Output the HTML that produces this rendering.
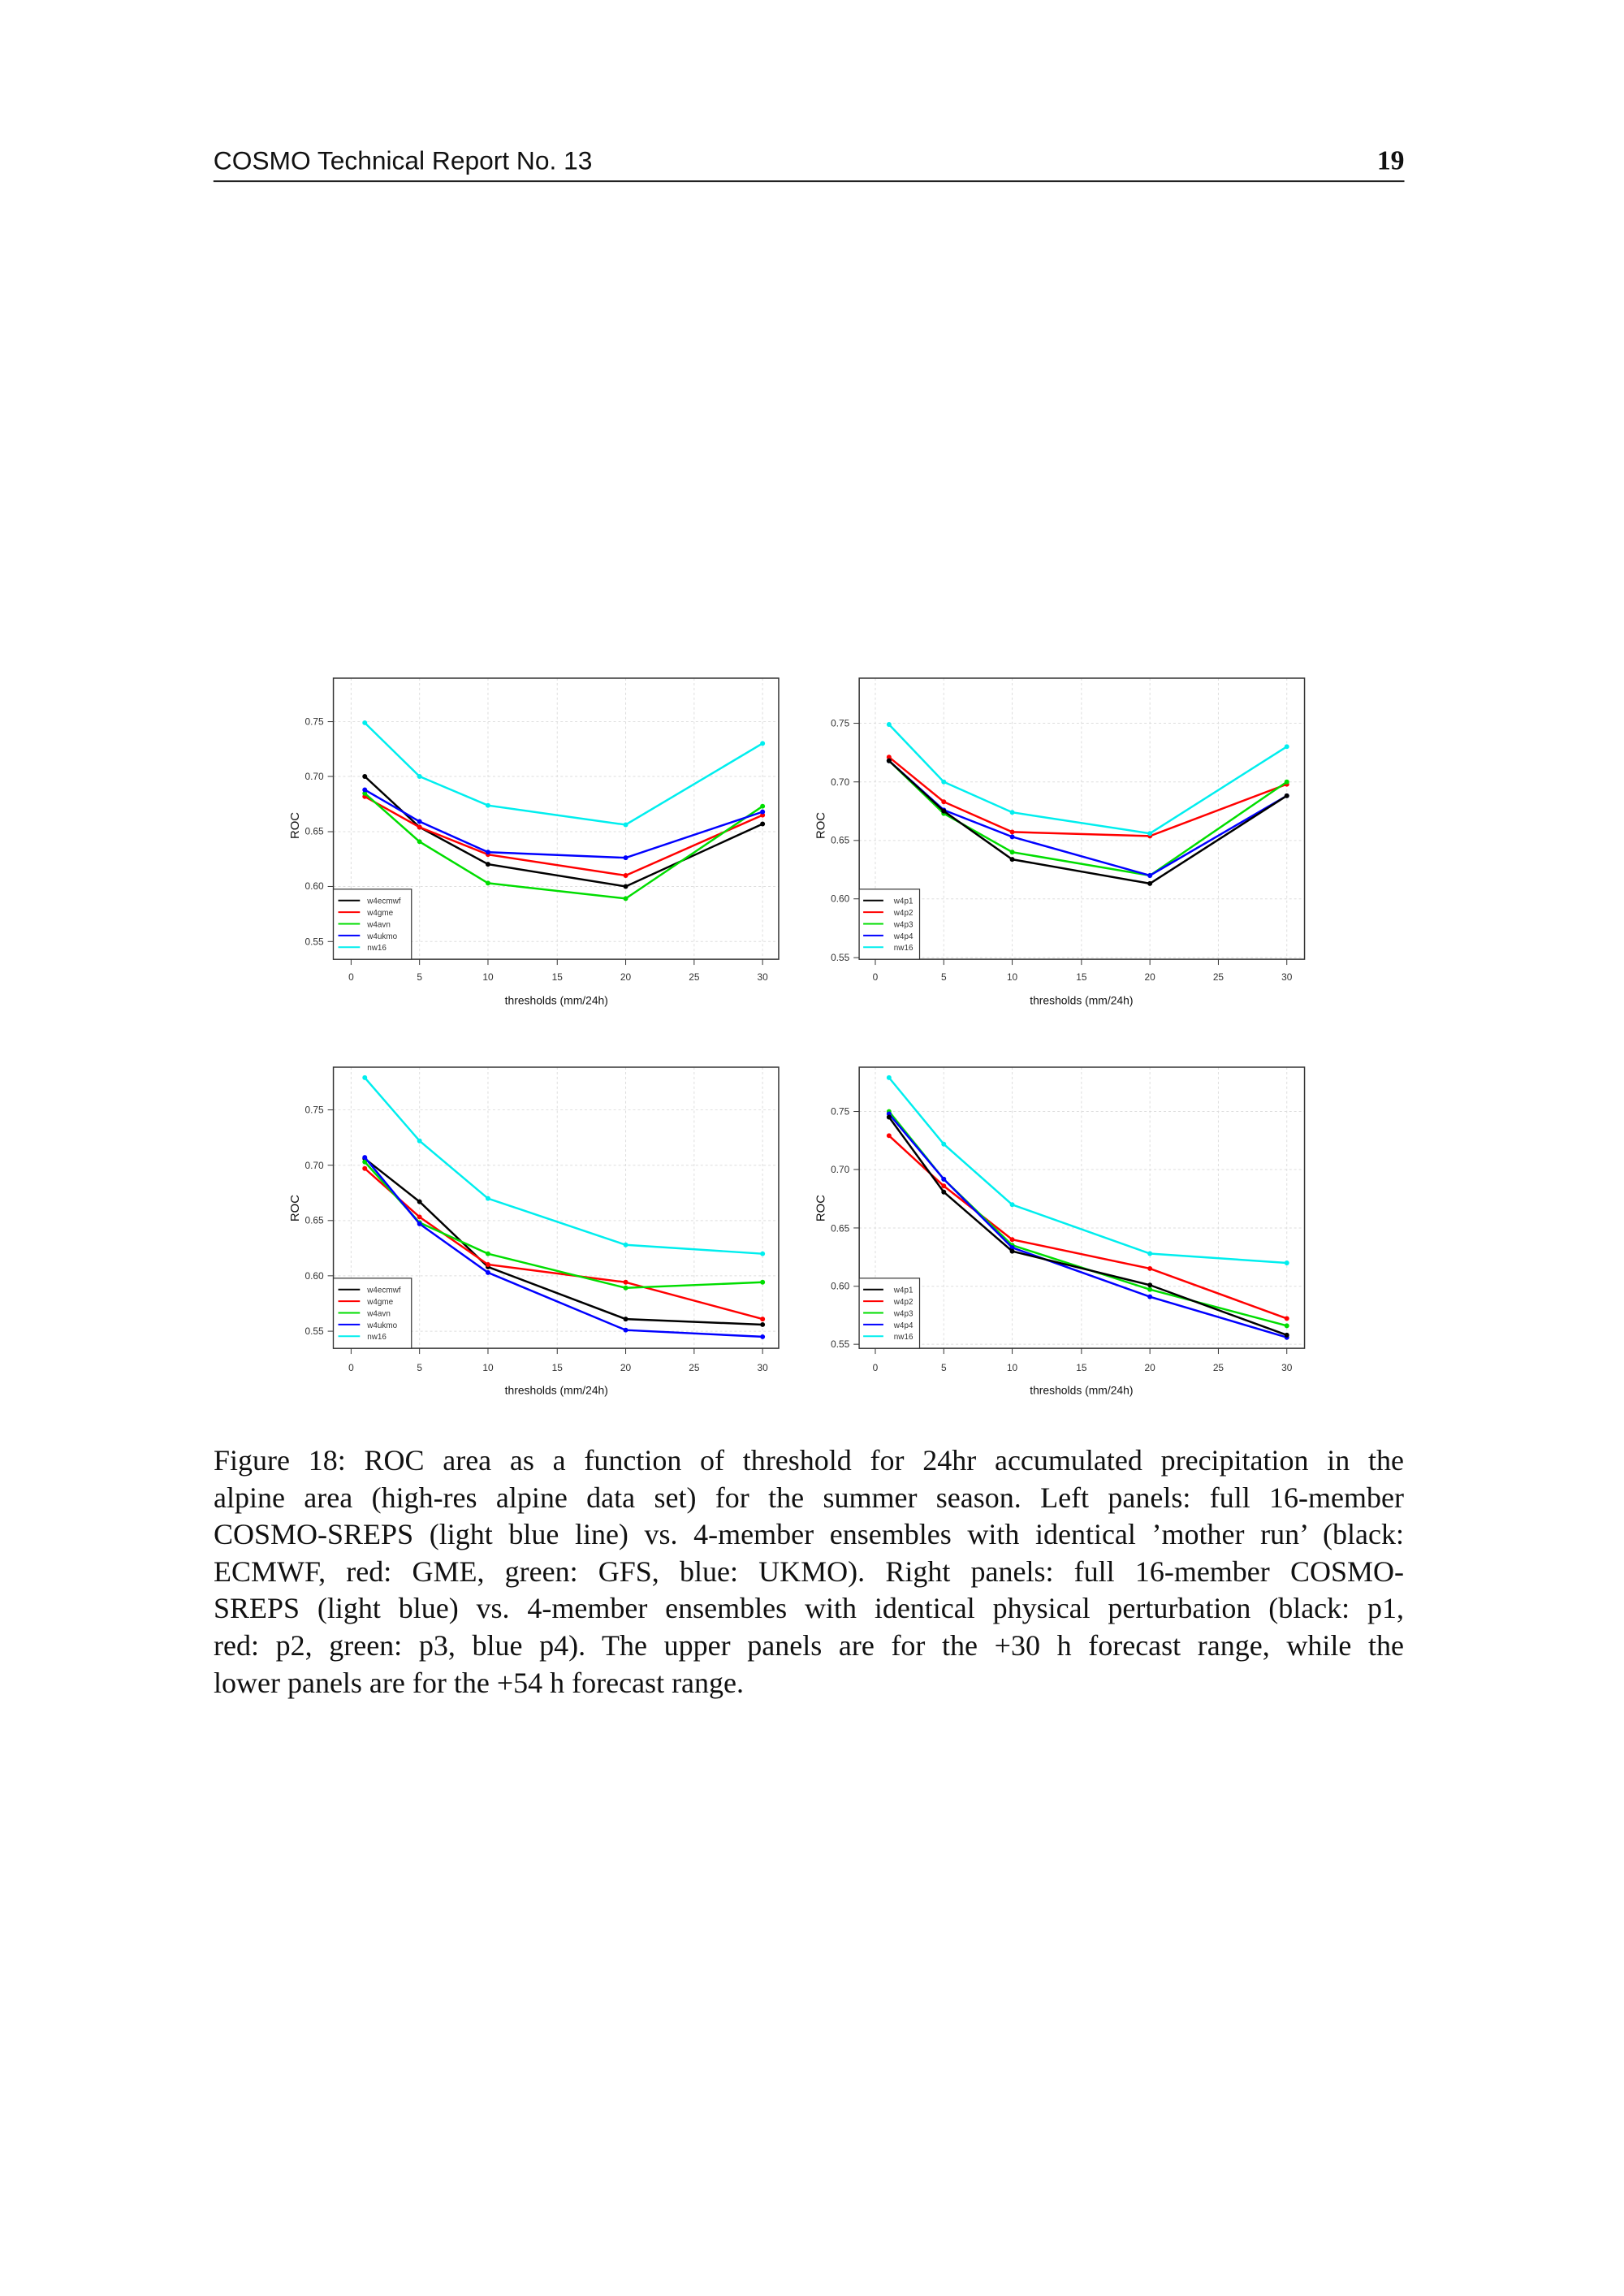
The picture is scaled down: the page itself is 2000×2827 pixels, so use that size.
<!DOCTYPE html>
<html><head><meta charset="utf-8"><style>
body{margin:0;background:#fff;}
svg{display:block}
.cap{position:absolute;left:263px;top:1776px;width:1466px;font-family:"Liberation Serif",serif;font-size:36px;line-height:45.6px;color:#111;}
.cap div{text-align:justify;text-align-last:justify;white-space:nowrap;}
.cap div.last{text-align-last:left;}
</style></head><body>
<div style="position:relative;width:2000px;height:2827px;">
<svg width="2000" height="2827" xmlns="http://www.w3.org/2000/svg" style="position:absolute;left:0;top:0">
<defs>
<marker id="mk" viewBox="0 0 10 10" refX="5" refY="5" markerWidth="3" markerHeight="3" markerUnits="strokeWidth"><circle cx="5" cy="5" r="4" fill="#000"/></marker>
<marker id="mr" viewBox="0 0 10 10" refX="5" refY="5" markerWidth="3" markerHeight="3" markerUnits="strokeWidth"><circle cx="5" cy="5" r="4" fill="#f00"/></marker>
<marker id="mg" viewBox="0 0 10 10" refX="5" refY="5" markerWidth="3" markerHeight="3" markerUnits="strokeWidth"><circle cx="5" cy="5" r="4" fill="#0d0"/></marker>
<marker id="mb" viewBox="0 0 10 10" refX="5" refY="5" markerWidth="3" markerHeight="3" markerUnits="strokeWidth"><circle cx="5" cy="5" r="4" fill="#00f"/></marker>
<marker id="mc" viewBox="0 0 10 10" refX="5" refY="5" markerWidth="3" markerHeight="3" markerUnits="strokeWidth"><circle cx="5" cy="5" r="4" fill="#0ee"/></marker>
<style>
.k{stroke:#000;marker-start:url(#mk);marker-mid:url(#mk);marker-end:url(#mk)}
.r{stroke:#f00;marker-start:url(#mr);marker-mid:url(#mr);marker-end:url(#mr)}
.g{stroke:#0d0;marker-start:url(#mg);marker-mid:url(#mg);marker-end:url(#mg)}
.b{stroke:#00f;marker-start:url(#mb);marker-mid:url(#mb);marker-end:url(#mb)}
.c{stroke:#0ee;marker-start:url(#mc);marker-mid:url(#mc);marker-end:url(#mc)}
</style>
</defs>
<g transform="scale(0.9917)">
<g font-family="Liberation Sans, sans-serif">
<text x="265" y="210" font-size="32" fill="#111">COSMO Technical Report No. 13</text>
<text x="1744" y="210" font-size="34" font-weight="bold" text-anchor="end" font-family="Liberation Serif, serif" fill="#111">19</text>
<line x1="265" y1="225" x2="1744" y2="225" stroke="#222" stroke-width="2"/>
</g>

<!-- Panel TL -->
<g font-family="Liberation Sans, sans-serif" fill="none">
<g stroke="#ddd" stroke-dasharray="3,3" stroke-width="1">
<line x1="414" x2="967" y1="1169" y2="1169"/><line x1="414" x2="967" y1="1100.6" y2="1100.6"/><line x1="414" x2="967" y1="1032.6" y2="1032.6"/><line x1="414" x2="967" y1="964" y2="964"/><line x1="414" x2="967" y1="896" y2="896"/>
<line y1="842" y2="1191" x1="436" x2="436"/><line y1="842" y2="1191" x1="521" x2="521"/><line y1="842" y2="1191" x1="606" x2="606"/><line y1="842" y2="1191" x1="692" x2="692"/><line y1="842" y2="1191" x1="777" x2="777"/><line y1="842" y2="1191" x1="862" x2="862"/><line y1="842" y2="1191" x1="947" x2="947"/>
</g>
<rect x="414" y="842" width="553" height="349" stroke="#333" stroke-width="1.5"/>
<g stroke="#333"><line x1="436" x2="436" y1="1191" y2="1198"/><line x1="521" x2="521" y1="1191" y2="1198"/><line x1="606" x2="606" y1="1191" y2="1198"/><line x1="692" x2="692" y1="1191" y2="1198"/><line x1="777" x2="777" y1="1191" y2="1198"/><line x1="862" x2="862" y1="1191" y2="1198"/><line x1="947" x2="947" y1="1191" y2="1198"/>
<line x1="407" x2="414" y1="1169" y2="1169"/><line x1="407" x2="414" y1="1100.6" y2="1100.6"/><line x1="407" x2="414" y1="1032.6" y2="1032.6"/><line x1="407" x2="414" y1="964" y2="964"/><line x1="407" x2="414" y1="896" y2="896"/></g>
<g stroke-width="2.5">
<polyline class="k" points="453,964 521,1027 606,1073 777,1100.6 947,1023"/>
<polyline class="r" points="453,989 521,1027 606,1061 777,1087 947,1012"/>
<polyline class="g" points="453,985 521,1045 606,1096.5 777,1115.6 947,1001"/>
<polyline class="b" points="453,980.6 521,1020 606,1058 777,1065 947,1008"/>
<polyline class="c" points="453,897.4 521,964 606,1000 777,1024 947,923"/>
</g>
<g fill="#333" font-size="12">
<text x="436" y="1217" text-anchor="middle">0</text><text x="521" y="1217" text-anchor="middle">5</text><text x="606" y="1217" text-anchor="middle">10</text><text x="692" y="1217" text-anchor="middle">15</text><text x="777" y="1217" text-anchor="middle">20</text><text x="862" y="1217" text-anchor="middle">25</text><text x="947" y="1217" text-anchor="middle">30</text>
<text x="402" y="1173" text-anchor="end">0.55</text><text x="402" y="1104" text-anchor="end">0.60</text><text x="402" y="1036" text-anchor="end">0.65</text><text x="402" y="968" text-anchor="end">0.70</text><text x="402" y="900" text-anchor="end">0.75</text>
<text x="691" y="1247" text-anchor="middle" font-size="14" fill="#111">thresholds (mm/24h)</text>
<text transform="translate(371,1025) rotate(-90)" text-anchor="middle" font-size="15" fill="#111">ROC</text>
</g>
<rect x="414" y="1104" width="97" height="87" fill="#fff" stroke="#333" stroke-width="1.2"/>
<g stroke-width="2"><line x1="420" x2="447" y1="1118" y2="1118" stroke="#000"/><line x1="420" x2="447" y1="1132.5" y2="1132.5" stroke="#f00"/><line x1="420" x2="447" y1="1147" y2="1147" stroke="#0d0"/><line x1="420" x2="447" y1="1161.5" y2="1161.5" stroke="#00f"/><line x1="420" x2="447" y1="1176" y2="1176" stroke="#0ee"/></g>
<g fill="#333" font-size="10"><text x="456" y="1122">w4ecmwf</text><text x="456" y="1136.5">w4gme</text><text x="456" y="1151">w4avn</text><text x="456" y="1165.5">w4ukmo</text><text x="456" y="1180">nw16</text></g>
</g>

<!-- Panel TR -->
<g font-family="Liberation Sans, sans-serif" fill="none">
<g stroke="#ddd" stroke-dasharray="3,3" stroke-width="1">
<line x1="1067" x2="1620" y1="1189" y2="1189"/><line x1="1067" x2="1620" y1="1116" y2="1116"/><line x1="1067" x2="1620" y1="1043.5" y2="1043.5"/><line x1="1067" x2="1620" y1="970.8" y2="970.8"/><line x1="1067" x2="1620" y1="898" y2="898"/>
<line y1="842" y2="1191" x1="1087" x2="1087"/><line y1="842" y2="1191" x1="1172" x2="1172"/><line y1="842" y2="1191" x1="1257" x2="1257"/><line y1="842" y2="1191" x1="1343" x2="1343"/><line y1="842" y2="1191" x1="1428" x2="1428"/><line y1="842" y2="1191" x1="1513" x2="1513"/><line y1="842" y2="1191" x1="1598" x2="1598"/>
</g>
<rect x="1067" y="842" width="553" height="349" stroke="#333" stroke-width="1.5"/>
<g stroke="#333"><line x1="1087" x2="1087" y1="1191" y2="1198"/><line x1="1172" x2="1172" y1="1191" y2="1198"/><line x1="1257" x2="1257" y1="1191" y2="1198"/><line x1="1343" x2="1343" y1="1191" y2="1198"/><line x1="1428" x2="1428" y1="1191" y2="1198"/><line x1="1513" x2="1513" y1="1191" y2="1198"/><line x1="1598" x2="1598" y1="1191" y2="1198"/>
<line x1="1060" x2="1067" y1="1189" y2="1189"/><line x1="1060" x2="1067" y1="1116" y2="1116"/><line x1="1060" x2="1067" y1="1043.5" y2="1043.5"/><line x1="1060" x2="1067" y1="970.8" y2="970.8"/><line x1="1060" x2="1067" y1="898" y2="898"/></g>
<g stroke-width="2.5">
<polyline class="r" points="1104,940 1172,995.5 1257,1033 1428,1038 1598,973.7"/>
<polyline class="g" points="1104,944.6 1172,1010 1257,1058 1428,1087 1598,970.8"/>
<polyline class="b" points="1104,944.6 1172,1005.7 1257,1039 1428,1087 1598,988"/>
<polyline class="k" points="1104,944.6 1172,1007 1257,1067 1428,1097 1598,988"/>
<polyline class="c" points="1104,899.5 1172,970.8 1257,1008.6 1428,1034.8 1598,927"/>
</g>
<g fill="#333" font-size="12">
<text x="1087" y="1217" text-anchor="middle">0</text><text x="1172" y="1217" text-anchor="middle">5</text><text x="1257" y="1217" text-anchor="middle">10</text><text x="1343" y="1217" text-anchor="middle">15</text><text x="1428" y="1217" text-anchor="middle">20</text><text x="1513" y="1217" text-anchor="middle">25</text><text x="1598" y="1217" text-anchor="middle">30</text>
<text x="1055" y="1193" text-anchor="end">0.55</text><text x="1055" y="1120" text-anchor="end">0.60</text><text x="1055" y="1047" text-anchor="end">0.65</text><text x="1055" y="975" text-anchor="end">0.70</text><text x="1055" y="902" text-anchor="end">0.75</text>
<text x="1343" y="1247" text-anchor="middle" font-size="14" fill="#111">thresholds (mm/24h)</text>
<text transform="translate(1024,1025) rotate(-90)" text-anchor="middle" font-size="15" fill="#111">ROC</text>
</g>
<rect x="1067" y="1104" width="75" height="87" fill="#fff" stroke="#333" stroke-width="1.2"/>
<g stroke-width="2"><line x1="1072" x2="1097" y1="1118" y2="1118" stroke="#000"/><line x1="1072" x2="1097" y1="1132.5" y2="1132.5" stroke="#f00"/><line x1="1072" x2="1097" y1="1147" y2="1147" stroke="#0d0"/><line x1="1072" x2="1097" y1="1161.5" y2="1161.5" stroke="#00f"/><line x1="1072" x2="1097" y1="1176" y2="1176" stroke="#0ee"/></g>
<g fill="#333" font-size="10"><text x="1110" y="1122">w4p1</text><text x="1110" y="1136.5">w4p2</text><text x="1110" y="1151">w4p3</text><text x="1110" y="1165.5">w4p4</text><text x="1110" y="1180">nw16</text></g>
</g>

<!-- Panel BL -->
<g font-family="Liberation Sans, sans-serif" fill="none">
<g stroke="#ddd" stroke-dasharray="3,3" stroke-width="1">
<line x1="414" x2="967" y1="1652.8" y2="1652.8"/><line x1="414" x2="967" y1="1584" y2="1584"/><line x1="414" x2="967" y1="1515.4" y2="1515.4"/><line x1="414" x2="967" y1="1446.7" y2="1446.7"/><line x1="414" x2="967" y1="1378" y2="1378"/>
<line y1="1325" y2="1674" x1="436" x2="436"/><line y1="1325" y2="1674" x1="521" x2="521"/><line y1="1325" y2="1674" x1="606" x2="606"/><line y1="1325" y2="1674" x1="692" x2="692"/><line y1="1325" y2="1674" x1="777" x2="777"/><line y1="1325" y2="1674" x1="862" x2="862"/><line y1="1325" y2="1674" x1="947" x2="947"/>
</g>
<rect x="414" y="1325" width="553" height="349" stroke="#333" stroke-width="1.5"/>
<g stroke="#333"><line x1="436" x2="436" y1="1674" y2="1681"/><line x1="521" x2="521" y1="1674" y2="1681"/><line x1="606" x2="606" y1="1674" y2="1681"/><line x1="692" x2="692" y1="1674" y2="1681"/><line x1="777" x2="777" y1="1674" y2="1681"/><line x1="862" x2="862" y1="1674" y2="1681"/><line x1="947" x2="947" y1="1674" y2="1681"/>
<line x1="407" x2="414" y1="1652.8" y2="1652.8"/><line x1="407" x2="414" y1="1584" y2="1584"/><line x1="407" x2="414" y1="1515.4" y2="1515.4"/><line x1="407" x2="414" y1="1446.7" y2="1446.7"/><line x1="407" x2="414" y1="1378" y2="1378"/></g>
<g stroke-width="2.5">
<polyline class="k" points="453,1438.5 521,1492 606,1573 777,1637.7 947,1644.6"/>
<polyline class="r" points="453,1450.8 521,1511 606,1570 777,1592 947,1637.7"/>
<polyline class="g" points="453,1442.6 521,1518 606,1556.6 777,1599 947,1592"/>
<polyline class="b" points="453,1437 521,1519.5 606,1580 777,1651.4 947,1659.7"/>
<polyline class="c" points="453,1338 521,1416.5 606,1488 777,1545.6 947,1556.6"/>
</g>
<g fill="#333" font-size="12">
<text x="436" y="1702" text-anchor="middle">0</text><text x="521" y="1702" text-anchor="middle">5</text><text x="606" y="1702" text-anchor="middle">10</text><text x="692" y="1702" text-anchor="middle">15</text><text x="777" y="1702" text-anchor="middle">20</text><text x="862" y="1702" text-anchor="middle">25</text><text x="947" y="1702" text-anchor="middle">30</text>
<text x="402" y="1657" text-anchor="end">0.55</text><text x="402" y="1588" text-anchor="end">0.60</text><text x="402" y="1519" text-anchor="end">0.65</text><text x="402" y="1451" text-anchor="end">0.70</text><text x="402" y="1382" text-anchor="end">0.75</text>
<text x="691" y="1731" text-anchor="middle" font-size="14" fill="#111">thresholds (mm/24h)</text>
<text transform="translate(371,1500) rotate(-90)" text-anchor="middle" font-size="15" fill="#111">ROC</text>
</g>
<rect x="414" y="1587" width="97" height="87" fill="#fff" stroke="#333" stroke-width="1.2"/>
<g stroke-width="2"><line x1="420" x2="447" y1="1601" y2="1601" stroke="#000"/><line x1="420" x2="447" y1="1615.5" y2="1615.5" stroke="#f00"/><line x1="420" x2="447" y1="1630" y2="1630" stroke="#0d0"/><line x1="420" x2="447" y1="1644.5" y2="1644.5" stroke="#00f"/><line x1="420" x2="447" y1="1659" y2="1659" stroke="#0ee"/></g>
<g fill="#333" font-size="10"><text x="456" y="1605">w4ecmwf</text><text x="456" y="1619.5">w4gme</text><text x="456" y="1634">w4avn</text><text x="456" y="1648.5">w4ukmo</text><text x="456" y="1663">nw16</text></g>
</g>

<!-- Panel BR -->
<g font-family="Liberation Sans, sans-serif" fill="none">
<g stroke="#ddd" stroke-dasharray="3,3" stroke-width="1">
<line x1="1067" x2="1620" y1="1669" y2="1669"/><line x1="1067" x2="1620" y1="1597" y2="1597"/><line x1="1067" x2="1620" y1="1524.6" y2="1524.6"/><line x1="1067" x2="1620" y1="1452" y2="1452"/><line x1="1067" x2="1620" y1="1380" y2="1380"/>
<line y1="1325" y2="1674" x1="1087" x2="1087"/><line y1="1325" y2="1674" x1="1172" x2="1172"/><line y1="1325" y2="1674" x1="1257" x2="1257"/><line y1="1325" y2="1674" x1="1343" x2="1343"/><line y1="1325" y2="1674" x1="1428" x2="1428"/><line y1="1325" y2="1674" x1="1513" x2="1513"/><line y1="1325" y2="1674" x1="1598" x2="1598"/>
</g>
<rect x="1067" y="1325" width="553" height="349" stroke="#333" stroke-width="1.5"/>
<g stroke="#333"><line x1="1087" x2="1087" y1="1674" y2="1681"/><line x1="1172" x2="1172" y1="1674" y2="1681"/><line x1="1257" x2="1257" y1="1674" y2="1681"/><line x1="1343" x2="1343" y1="1674" y2="1681"/><line x1="1428" x2="1428" y1="1674" y2="1681"/><line x1="1513" x2="1513" y1="1674" y2="1681"/><line x1="1598" x2="1598" y1="1674" y2="1681"/>
<line x1="1060" x2="1067" y1="1669" y2="1669"/><line x1="1060" x2="1067" y1="1597" y2="1597"/><line x1="1060" x2="1067" y1="1524.6" y2="1524.6"/><line x1="1060" x2="1067" y1="1452" y2="1452"/><line x1="1060" x2="1067" y1="1380" y2="1380"/></g>
<g stroke-width="2.5">
<polyline class="r" points="1104,1410 1172,1472.5 1257,1539 1428,1575 1598,1637"/>
<polyline class="g" points="1104,1380 1172,1464 1257,1546 1428,1601 1598,1646"/>
<polyline class="b" points="1104,1383 1172,1464 1257,1549 1428,1610 1598,1660.5"/>
<polyline class="k" points="1104,1387 1172,1480 1257,1553.5 1428,1595.5 1598,1657.6"/>
<polyline class="c" points="1104,1338 1172,1420.5 1257,1495.7 1428,1556.4 1598,1568"/>
</g>
<g fill="#333" font-size="12">
<text x="1087" y="1702" text-anchor="middle">0</text><text x="1172" y="1702" text-anchor="middle">5</text><text x="1257" y="1702" text-anchor="middle">10</text><text x="1343" y="1702" text-anchor="middle">15</text><text x="1428" y="1702" text-anchor="middle">20</text><text x="1513" y="1702" text-anchor="middle">25</text><text x="1598" y="1702" text-anchor="middle">30</text>
<text x="1055" y="1673" text-anchor="end">0.55</text><text x="1055" y="1601" text-anchor="end">0.60</text><text x="1055" y="1529" text-anchor="end">0.65</text><text x="1055" y="1456" text-anchor="end">0.70</text><text x="1055" y="1384" text-anchor="end">0.75</text>
<text x="1343" y="1731" text-anchor="middle" font-size="14" fill="#111">thresholds (mm/24h)</text>
<text transform="translate(1024,1500) rotate(-90)" text-anchor="middle" font-size="15" fill="#111">ROC</text>
</g>
<rect x="1067" y="1587" width="75" height="87" fill="#fff" stroke="#333" stroke-width="1.2"/>
<g stroke-width="2"><line x1="1072" x2="1097" y1="1601" y2="1601" stroke="#000"/><line x1="1072" x2="1097" y1="1615.5" y2="1615.5" stroke="#f00"/><line x1="1072" x2="1097" y1="1630" y2="1630" stroke="#0d0"/><line x1="1072" x2="1097" y1="1644.5" y2="1644.5" stroke="#00f"/><line x1="1072" x2="1097" y1="1659" y2="1659" stroke="#0ee"/></g>
<g fill="#333" font-size="10"><text x="1110" y="1605">w4p1</text><text x="1110" y="1619.5">w4p2</text><text x="1110" y="1634">w4p3</text><text x="1110" y="1648.5">w4p4</text><text x="1110" y="1663">nw16</text></g>
</g>
</g>
</svg>
<div class="cap">
<div>Figure 18: ROC area as a function of threshold for 24hr accumulated precipitation in the</div>
<div>alpine area (high-res alpine data set) for the summer season. Left panels: full 16-member</div>
<div>COSMO-SREPS (light blue line) vs. 4-member ensembles with identical ’mother run’ (black:</div>
<div>ECMWF, red: GME, green: GFS, blue: UKMO). Right panels: full 16-member COSMO-</div>
<div>SREPS (light blue) vs. 4-member ensembles with identical physical perturbation (black: p1,</div>
<div>red: p2, green: p3, blue p4). The upper panels are for the +30 h forecast range, while the</div>
<div class="last">lower panels are for the +54 h forecast range.</div>
</div>
</div>
</body></html>
